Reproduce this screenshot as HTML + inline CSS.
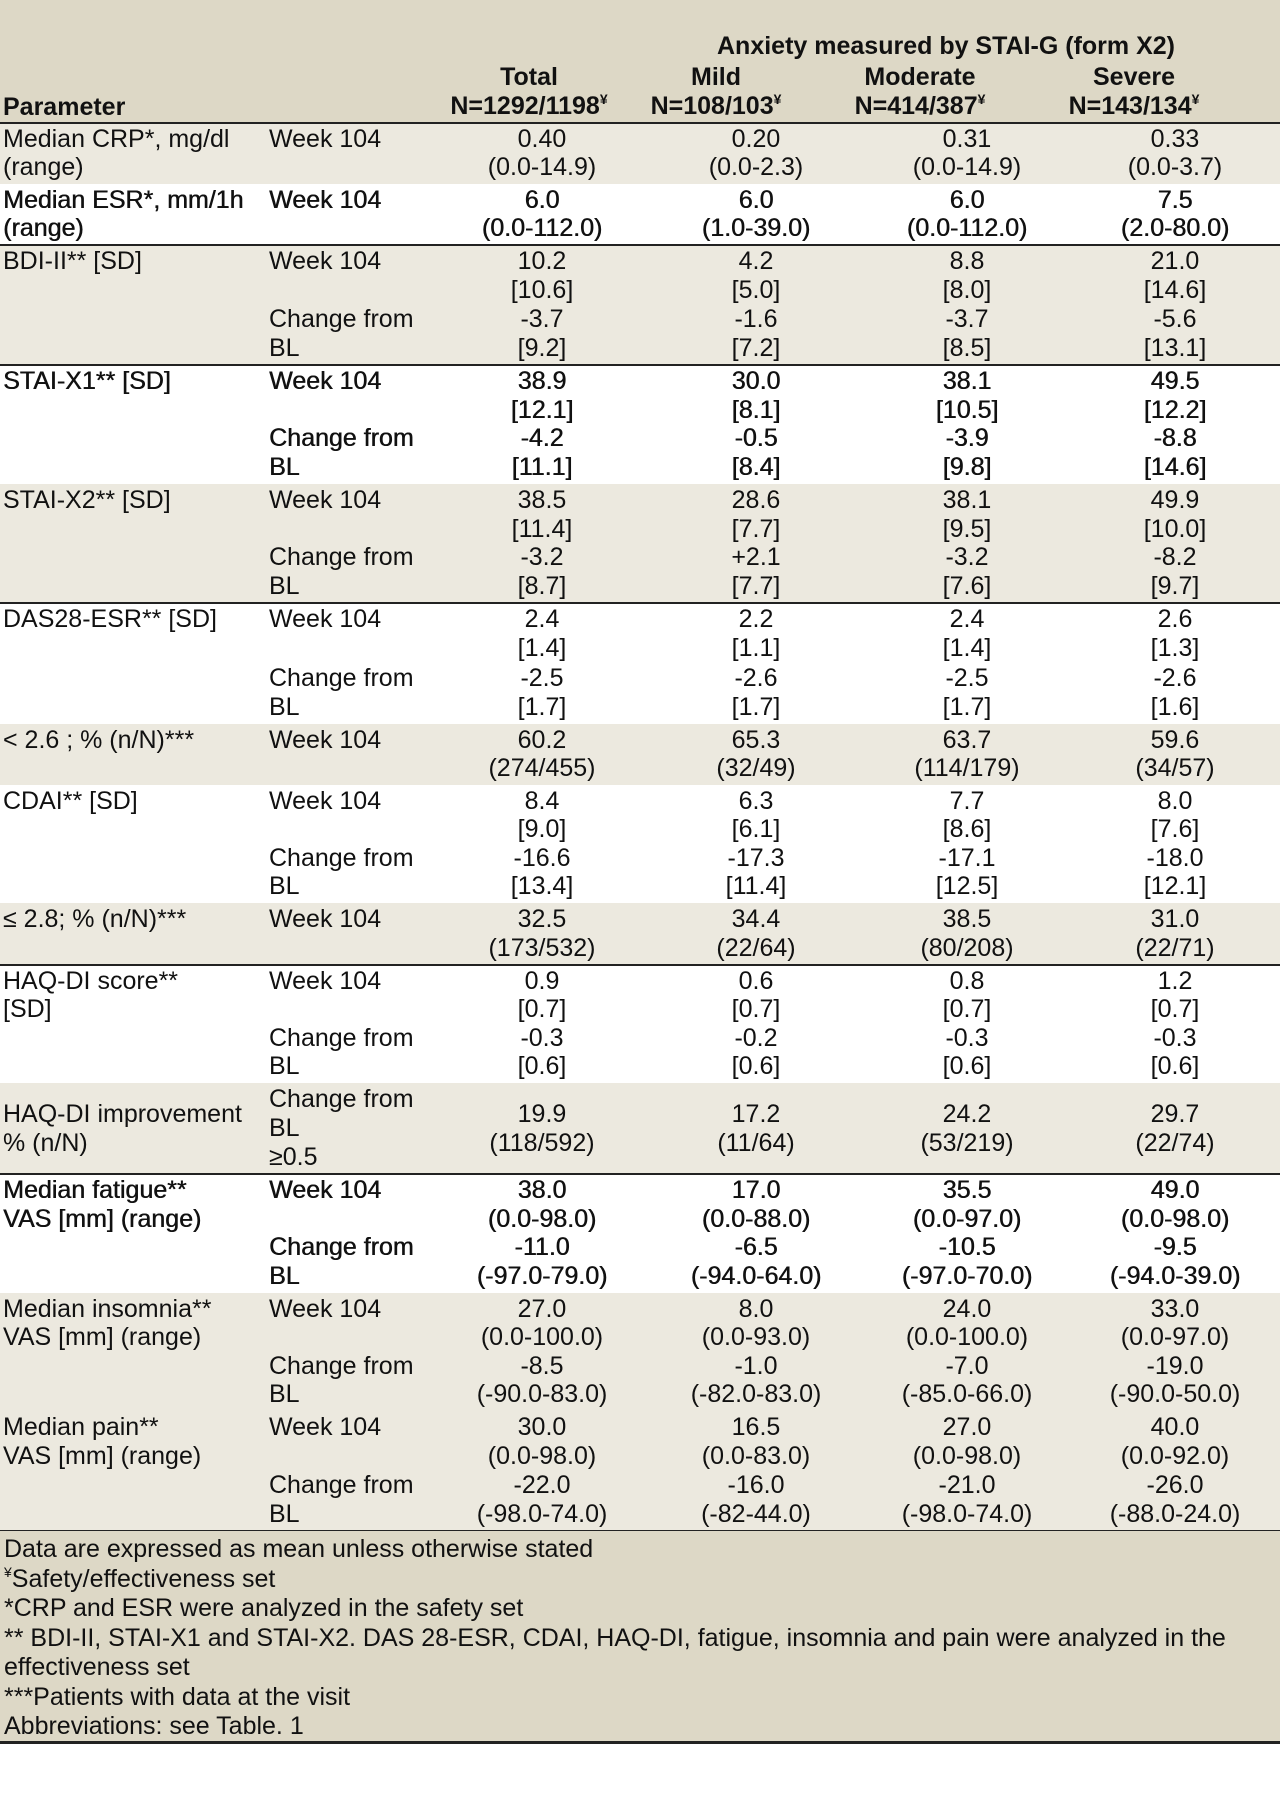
<!DOCTYPE html>
<html><head><meta charset="utf-8">
<style>
html,body{margin:0;padding:0;background:#fff;}
body{width:1280px;height:1811px;position:relative;overflow:hidden;font-family:"Liberation Sans",Arial,sans-serif;font-size:25px;color:#111;}
.abs{position:absolute;}
.t{position:absolute;height:29px;line-height:29px;white-space:nowrap;}
.c{text-align:center;width:240px;}
.b{font-weight:bold;}
.y{font-size:14px;position:relative;top:-10px;line-height:0;}
.rule{position:absolute;left:0;width:1280px;height:2px;background:#222;}
</style></head>
<body>
<div class="abs" style="left:0;top:0;width:1280px;height:123px;background:#ddd8c6;">
  <div class="t b c" style="left:716px;top:32px;width:460px;">Anxiety measured by STAI-G (form X2)</div>
  <div class="t b" style="left:3px;top:93px;">Parameter</div>
  <div class="t b c" style="left:409px;top:63px;">Total</div>
  <div class="t b c" style="left:409px;top:92px;">N=1292/1198<span class="y">¥</span></div>
  <div class="t b c" style="left:596px;top:63px;">Mild</div>
  <div class="t b c" style="left:596px;top:92px;">N=108/103<span class="y">¥</span></div>
  <div class="t b c" style="left:800px;top:63px;">Moderate</div>
  <div class="t b c" style="left:800px;top:92px;">N=414/387<span class="y">¥</span></div>
  <div class="t b c" style="left:1014px;top:63px;">Severe</div>
  <div class="t b c" style="left:1014px;top:92px;">N=143/134<span class="y">¥</span></div>
</div>
<div id="rows"></div>
<div class="abs" style="left:0;top:1531px;width:1280px;height:211px;background:#ddd8c6;">
  <div class="t" style="left:4px;top:4px;">Data are expressed as mean unless otherwise stated</div>
  <div class="t" style="left:4px;top:33.5px;"><span class="y">¥</span>Safety/effectiveness set</div>
  <div class="t" style="left:4px;top:63px;">*CRP and ESR were analyzed in the safety set</div>
  <div class="t" style="left:4px;top:92.5px;">** BDI-II, STAI-X1 and STAI-X2. DAS 28-ESR, CDAI, HAQ-DI, fatigue, insomnia and pain were analyzed in the</div>
  <div class="t" style="left:4px;top:122px;">effectiveness set</div>
  <div class="t" style="left:4px;top:151.5px;">***Patients with data at the visit</div>
  <div class="t" style="left:4px;top:181px;">Abbreviations: see Table. 1</div>
</div>
<div class="rule" style="top:1741px;height:3px;"></div>
<script>
const rowTops=[123,184,245,365,484,603,724,785,903,965,1083,1174,1293,1411,1531];
const rowBg=['#ece9df','#fff','#ece9df','#fff','#ece9df','#fff','#ece9df','#fff','#ece9df','#fff','#ece9df','#fff','#ece9df','#ece9df'];
const rowBold=[false,true,false,true,false,false,false,false,false,false,false,true,false,false];
const ruleAbove=[true,false,true,true,false,true,false,false,false,true,false,true,false,false];
const paramLabels=[["Median CRP*, mg/dl","(range)"],["Median ESR*, mm/1h","(range)"],["BDI-II** [SD]"],["STAI-X1** [SD]"],["STAI-X2** [SD]"],["DAS28-ESR** [SD]"],["< 2.6 ; % (n/N)***"],["CDAI** [SD]"],["≤ 2.8; % (n/N)***"],["HAQ-DI score**","[SD]"],["","HAQ-DI improvement","% (n/N)"],["Median fatigue**","VAS [mm] (range)"],["Median insomnia**","VAS [mm] (range)"],["Median pain**","VAS [mm] (range)"]];
const visitLabels=[["Week 104"],["Week 104"],["Week 104","","Change from","BL"],["Week 104","","Change from","BL"],["Week 104","","Change from","BL"],["Week 104","","Change from","BL"],["Week 104"],["Week 104","","Change from","BL"],["Week 104"],["Week 104","","Change from","BL"],["Change from","BL","≥0.5"],["Week 104","","Change from","BL"],["Week 104","","Change from","BL"],["Week 104","","Change from","BL"]];
const totalVals=[["0.40","(0.0-14.9)"],["6.0","(0.0-112.0)"],["10.2","[10.6]","-3.7","[9.2]"],["38.9","[12.1]","-4.2","[11.1]"],["38.5","[11.4]","-3.2","[8.7]"],["2.4","[1.4]","-2.5","[1.7]"],["60.2","(274/455)"],["8.4","[9.0]","-16.6","[13.4]"],["32.5","(173/532)"],["0.9","[0.7]","-0.3","[0.6]"],["19.9","(118/592)"],["38.0","(0.0-98.0)","-11.0","(-97.0-79.0)"],["27.0","(0.0-100.0)","-8.5","(-90.0-83.0)"],["30.0","(0.0-98.0)","-22.0","(-98.0-74.0)"]];
const mildVals=[["0.20","(0.0-2.3)"],["6.0","(1.0-39.0)"],["4.2","[5.0]","-1.6","[7.2]"],["30.0","[8.1]","-0.5","[8.4]"],["28.6","[7.7]","+2.1","[7.7]"],["2.2","[1.1]","-2.6","[1.7]"],["65.3","(32/49)"],["6.3","[6.1]","-17.3","[11.4]"],["34.4","(22/64)"],["0.6","[0.7]","-0.2","[0.6]"],["17.2","(11/64)"],["17.0","(0.0-88.0)","-6.5","(-94.0-64.0)"],["8.0","(0.0-93.0)","-1.0","(-82.0-83.0)"],["16.5","(0.0-83.0)","-16.0","(-82-44.0)"]];
const moderateVals=[["0.31","(0.0-14.9)"],["6.0","(0.0-112.0)"],["8.8","[8.0]","-3.7","[8.5]"],["38.1","[10.5]","-3.9","[9.8]"],["38.1","[9.5]","-3.2","[7.6]"],["2.4","[1.4]","-2.5","[1.7]"],["63.7","(114/179)"],["7.7","[8.6]","-17.1","[12.5]"],["38.5","(80/208)"],["0.8","[0.7]","-0.3","[0.6]"],["24.2","(53/219)"],["35.5","(0.0-97.0)","-10.5","(-97.0-70.0)"],["24.0","(0.0-100.0)","-7.0","(-85.0-66.0)"],["27.0","(0.0-98.0)","-21.0","(-98.0-74.0)"]];
const severeVals=[["0.33","(0.0-3.7)"],["7.5","(2.0-80.0)"],["21.0","[14.6]","-5.6","[13.1]"],["49.5","[12.2]","-8.8","[14.6]"],["49.9","[10.0]","-8.2","[9.7]"],["2.6","[1.3]","-2.6","[1.6]"],["59.6","(34/57)"],["8.0","[7.6]","-18.0","[12.1]"],["31.0","(22/71)"],["1.2","[0.7]","-0.3","[0.6]"],["29.7","(22/74)"],["49.0","(0.0-98.0)","-9.5","(-94.0-39.0)"],["33.0","(0.0-97.0)","-19.0","(-90.0-50.0)"],["40.0","(0.0-92.0)","-26.0","(-88.0-24.0)"]];
const colNames=['total','mild','moderate','severe'];
const colCenters=[542,756,967,1175];
const colVals=[totalVals,mildVals,moderateVals,severeVals];
const host=document.getElementById('rows');
function lineDiv(parent,txt,x,y,centered,name){
  const d=document.createElement('div');
  d.className='t'+(centered?' c':'');
  d.style.left=(centered?x-120:x)+'px';
  d.style.top=y+'px';
  d.textContent=txt;
  
  
  parent.appendChild(d);
}
for(let r=0;r<paramLabels.length;r++){
  const top=rowTops[r], h=rowTops[r+1]-top;
  const row=document.createElement('div');
  row.className='abs';
  row.style.cssText='left:0;top:'+top+'px;width:1280px;height:'+h+'px;background:'+rowBg[r]+';'+(rowBold[r]?'text-shadow:0.5px 0 0 #111;':'');
  
  
  host.appendChild(row);
  const nLines=visitLabels[r].length>2?visitLabels[r].length:2;
  const pitch=(h-4)/nLines;
  const y0=2+(pitch-29)/2;
  const isImp=visitLabels[r][0]==='Change from'&&visitLabels[r].length===3;
  paramLabels[r].forEach((t,i)=>{ if(t) lineDiv(row,t,3,y0+i*pitch-(isImp?pitch*0.5:0),false,'parameter-label'); });
  visitLabels[r].forEach((t,i)=>{ if(t) lineDiv(row,t,269,y0+i*pitch,false,'visit-label'); });
  for(let c=0;c<4;c++){
    colVals[c][r].forEach((t,i)=>{ lineDiv(row,t,colCenters[c],y0+i*pitch+(isImp?pitch*0.5:0),true,colNames[c]+'-value'); });
  }
  if(ruleAbove[r]){
    const ln=document.createElement('div');
    ln.className='rule';
    ln.style.top=(top-1)+'px';
    
    
    host.appendChild(ln);
  }
}
const fr=document.createElement('div');
fr.className='rule';
fr.style.top='1530px';
fr.style.height='3px';


host.appendChild(fr);
</script>
</body></html>
